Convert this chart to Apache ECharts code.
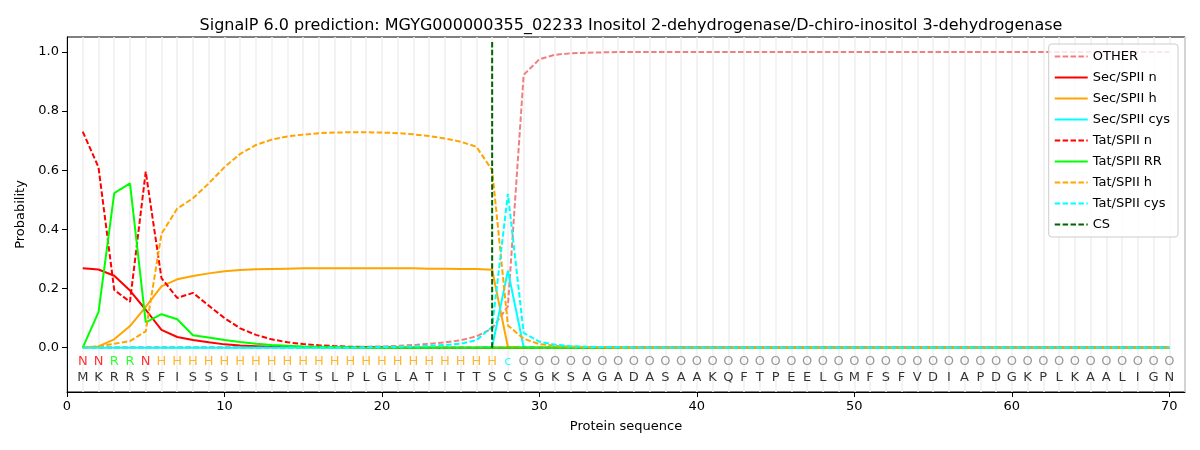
<!DOCTYPE html>
<html>
<head>
<meta charset="utf-8">
<script src="https://cdn.jsdelivr.net/npm/echarts@6/dist/echarts.min.js"></script>
<style>
  html, body { margin: 0; padding: 0; background: #fff; }
  #main { width: 1200px; height: 450px; }
</style>
</head>
<body>
<div id="main"></div>
<script>
// residues 1..70
var sequence = ['M','K','R','R','S','F','I','S','S','S','L','I','L','G','T','S','L','P','L','G',
    'L','A','T','I','T','T','S','C','S','G','K','S','A','G','A','D','A','S','A','A',
    'K','Q','F','T','P','E','E','L','G','M','F','S','F','V','D','I','A','P','D','G',
    'K','P','L','K','A','A','L','I','G','N'];

// predicted region per residue
var regions = ['N','N','R','R','N','H','H','H','H','H','H','H','H','H','H','H','H','H','H','H',
    'H','H','H','H','H','H','H','c','O','O','O','O','O','O','O','O','O','O','O','O',
    'O','O','O','O','O','O','O','O','O','O','O','O','O','O','O','O','O','O','O','O',
    'O','O','O','O','O','O','O','O','O','O'];

var csPos = 27;

var other = [0.001,0.001,0.001,0.001,0.001,0.001,0.001,0.001,0.001,0.001,
    0.001,0.001,0.001,0.001,0.001,0.001,0.002,0.002,0.003,0.004,
    0.006,0.009,0.013,0.018,0.025,0.038,0.065,0.14,0.922,0.975,
    0.99,0.995,0.997,0.998,0.999,0.999,0.999,0.999,0.999,0.999,
    0.999,0.999,0.999,0.999,0.999,0.999,0.999,0.999,0.999,0.999,
    0.999,0.999,0.999,0.999,0.999,0.999,0.999,0.999,0.999,0.999,
    0.999,0.999,0.999,0.999,0.999,0.999,0.999,0.999,0.999,0.999];

var secN = [0.268,0.264,0.243,0.193,0.128,0.06,0.036,0.026,0.018,0.011,
    0.007,0.005,0.003,0.002,0.001,0.001,0,0,0,0,
    0,0,0,0,0,0,0,0,0,0,0,0,0,0,0,0,0,0,0,0,
    0,0,0,0,0,0,0,0,0,0,0,0,0,0,0,0,0,0,0,0,
    0,0,0,0,0,0,0,0,0,0];

var secH = [0,0.004,0.028,0.073,0.138,0.207,0.231,0.242,0.251,0.258,
    0.262,0.265,0.266,0.267,0.268,0.268,0.268,0.268,0.268,0.268,
    0.268,0.268,0.267,0.267,0.266,0.266,0.263,0.002,0,0,
    0,0,0,0,0,0,0,0,0,0,0,0,0,0,0,0,0,0,0,0,
    0,0,0,0,0,0,0,0,0,0,0,0,0,0,0,0,0,0,0,0];

var secCys = [0,0,0,0,0,0,0,0,0,0,0,0,0,0,0,0,0,0,0,0,
    0,0,0,0,0,0,0.002,0.26,0.002,0,
    0,0,0,0,0,0,0,0,0,0,0,0,0,0,0,0,0,0,0,0,
    0,0,0,0,0,0,0,0,0,0,0,0,0,0,0,0,0,0,0,0];

var tatN = [0.73,0.61,0.195,0.155,0.595,0.235,0.168,0.185,0.142,0.1,
    0.065,0.043,0.028,0.018,0.012,0.008,0.005,0.003,0.002,0.001,
    0,0,0,0,0,0,0,0,0,0,0,0,0,0,0,0,0,0,0,0,
    0,0,0,0,0,0,0,0,0,0,0,0,0,0,0,0,0,0,0,0,
    0,0,0,0,0,0,0,0,0,0];

var tatRR = [0,0.12,0.522,0.555,0.085,0.113,0.096,0.042,0.034,0.026,
    0.019,0.013,0.009,0.006,0.004,0.003,0.002,0.001,0,0,
    0,0,0,0,0,0,0,0,0,0,0,0,0,0,0,0,0,0,0,0,
    0,0,0,0,0,0,0,0,0,0,0,0,0,0,0,0,0,0,0,0,
    0,0,0,0,0,0,0,0,0,0];

var tatH = [0,0.005,0.013,0.022,0.055,0.385,0.47,0.505,0.555,0.61,
    0.655,0.685,0.703,0.714,0.72,0.725,0.727,0.728,0.728,0.727,
    0.725,0.721,0.715,0.707,0.696,0.679,0.6,0.075,0.03,0.012,
    0.006,0.003,0.002,0.001,0,0,0,0,0,0,
    0,0,0,0,0,0,0,0,0,0,0,0,0,0,0,0,0,0,0,0,
    0,0,0,0,0,0,0,0,0,0];

var tatCys = [0,0,0,0,0,0,0,0,0,0,0,0,0,0,0,0,0,0,0.001,0.002,
    0.003,0.004,0.006,0.009,0.013,0.025,0.07,0.52,0.05,0.02,
    0.01,0.005,0.003,0.002,0.001,0,0,0,0,0,
    0,0,0,0,0,0,0,0,0,0,0,0,0,0,0,0,0,0,0,0,
    0,0,0,0,0,0,0,0,0,0];

var regionColors = { N: '#ff0000', R: '#00ff00', H: '#ffa500', c: '#00ffff', O: '#808080' };

var FONT = 'DejaVu Sans';
var DASH = [5.5, 2.4];

function pts(arr) {
    return arr.map(function (v, i) { return [i + 1, v]; });
}

function lineSeries(name, arr, color, dashed) {
    return {
        name: name,
        type: 'line',
        data: pts(arr),
        symbol: 'none',
        lineStyle: { color: color, width: 2, type: dashed ? DASH : 'solid' },
        itemStyle: { color: color },
        z: 3
    };
}

function letterSeries(letters, y, colorFn) {
    return {
        type: 'scatter',
        data: letters.map(function (l, i) {
            return {
                value: [i + 1, y],
                label: { color: colorFn(l) }
            };
        }),
        symbolSize: 1,
        itemStyle: { color: 'rgba(0,0,0,0)' },
        label: {
            show: true,
            position: 'inside',
            fontFamily: FONT,
            fontSize: 13,
            formatter: function (p) { return letters[p.dataIndex]; }
        },
        silent: true,
        z: 4
    };
}

var myChart = echarts.init(document.getElementById('main'));

var option = {
    animation: false,
    backgroundColor: '#ffffff',
    textStyle: { fontFamily: FONT },
    title: {
        text: 'SignalP 6.0 prediction: MGYG000000355_02233 Inositol 2-dehydrogenase/D-chiro-inositol 3-dehydrogenase',
        left: 626,
        top: 13,
        textAlign: 'center',
        textStyle: { fontFamily: FONT, fontSize: 16, fontWeight: 'normal', color: '#000' }
    },
    legend: {
        orient: 'vertical',
        right: 22,
        top: 44,
        padding: [6, 8, 6, 5],
        itemGap: 8,
        itemWidth: 33,
        itemHeight: 14,
        backgroundColor: 'rgba(255,255,255,0.8)',
        borderColor: '#cccccc',
        borderWidth: 1,
        borderRadius: 3,
        itemStyle: { opacity: 0 },
        textStyle: { fontFamily: FONT, fontSize: 13, color: '#000' },
        data: ['OTHER', 'Sec/SPII n', 'Sec/SPII h', 'Sec/SPII cys', 'Tat/SPII n',
            'Tat/SPII RR', 'Tat/SPII h', 'Tat/SPII cys', 'CS']
    },
    grid: {
        left: 67,
        right: 15,
        top: 37,
        bottom: 58,
        show: true,
        borderColor: '#000',
        borderWidth: 1
    },
    xAxis: {
        type: 'value',
        min: 0,
        max: 71,
        interval: 10,
        name: 'Protein sequence',
        nameLocation: 'middle',
        nameGap: 28,
        nameTextStyle: { fontFamily: FONT, fontSize: 13, color: '#000' },
        axisLine: { show: true, onZero: false, lineStyle: { color: '#000' } },
        axisTick: { show: true, length: 5, lineStyle: { color: '#000' } },
        axisLabel: { fontFamily: FONT, fontSize: 13, color: '#000', margin: 8,
            showMaxLabel: false },
        splitLine: { show: true, lineStyle: { color: '#efefef', width: 1.5 } },
        minorTick: { show: false, splitNumber: 10 },
        minorSplitLine: { show: true, lineStyle: { color: '#efefef', width: 1.5 } }
    },
    yAxis: {
        type: 'value',
        min: -0.15,
        max: 1.05,
        name: 'Probability',
        nameLocation: 'middle',
        nameGap: 40,
        nameTextStyle: { fontFamily: FONT, fontSize: 13, color: '#000' },
        axisLine: { show: true, lineStyle: { color: '#000' } },
        axisTick: { show: true, length: 5, customValues: [0, 0.2, 0.4, 0.6, 0.8, 1.0],
            lineStyle: { color: '#000' } },
        axisLabel: { fontFamily: FONT, fontSize: 13, color: '#000', margin: 8,
            customValues: [0, 0.2, 0.4, 0.6, 0.8, 1.0],
            formatter: function (v) { return v.toFixed(1); } },
        splitLine: { show: false }
    },
    series: [
        lineSeries('OTHER', other, '#f08080', true),
        lineSeries('Sec/SPII n', secN, '#ff0000', false),
        lineSeries('Sec/SPII h', secH, '#ffa500', false),
        lineSeries('Sec/SPII cys', secCys, '#00ffff', false),
        lineSeries('Tat/SPII n', tatN, '#ff0000', true),
        lineSeries('Tat/SPII RR', tatRR, '#00ff00', false),
        lineSeries('Tat/SPII h', tatH, '#ffa500', true),
        lineSeries('Tat/SPII cys', tatCys, '#00ffff', true),
        {
            name: 'CS',
            type: 'line',
            data: [[csPos, 0], [csPos, 1.04]],
            symbol: 'none',
            lineStyle: { color: '#006400', width: 2, type: DASH },
            itemStyle: { color: '#006400' },
            z: 3
        },
        letterSeries(regions, -0.048, function (l) { return regionColors[l]; }),
        letterSeries(sequence, -0.1, function () { return '#000'; })
    ]
};

myChart.setOption(option);
</script>
</body>
</html>
